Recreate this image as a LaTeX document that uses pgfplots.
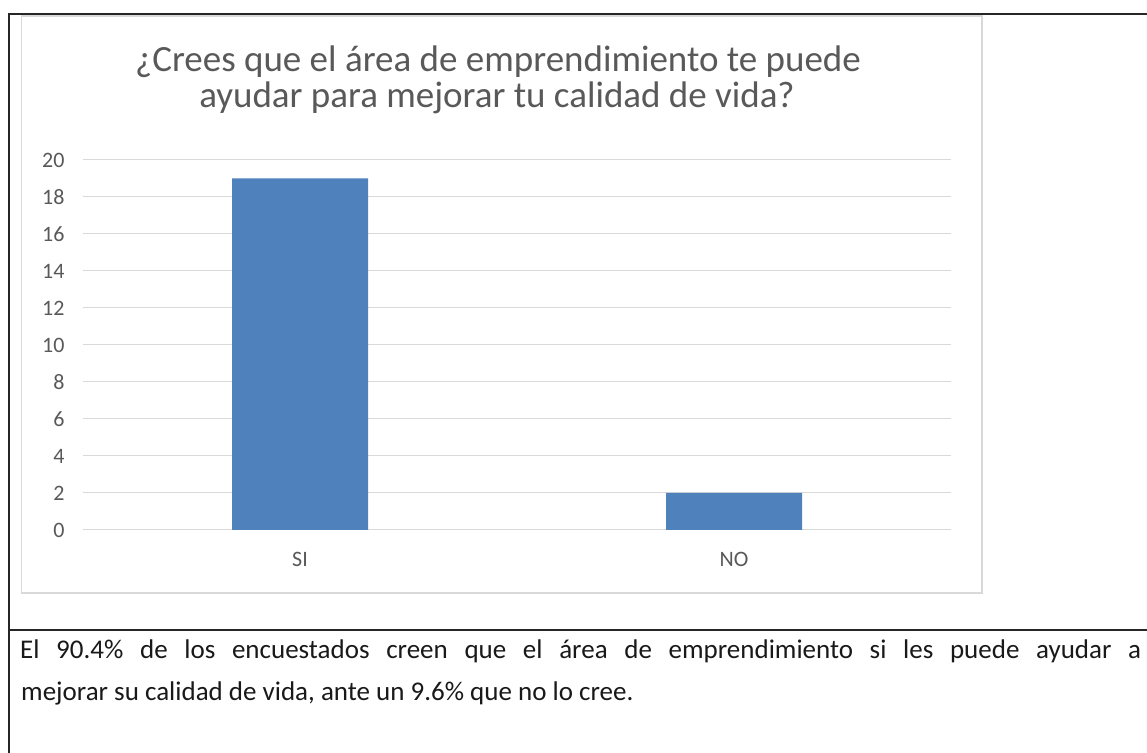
\documentclass[border=0pt]{standalone}
\usepackage{pgfplots}
\pgfplotsset{compat=1.18}
\usepackage{fontspec}
\setmainfont{Carlito}
\definecolor{barblue}{HTML}{4F81BD}
\definecolor{gridgray}{HTML}{D9D9D9}
\definecolor{textgray}{HTML}{595959}
\definecolor{framedark}{HTML}{262626}
\begin{document}
\begin{tikzpicture}[x=1pt,y=1pt]
\useasboundingbox (0,0) rectangle (1147,752);
\fill[white] (0,0) rectangle (1147,752);
\begin{scope}
\clip (0,0) rectangle (1147,752);
% chart area box
\draw[gridgray, line width=1.5pt] (21.5,159) rectangle (982,736);
% document table frame
\draw[framedark, line width=2pt] (9,-5) -- (9,738) -- (1160,738);
\draw[framedark, line width=2pt] (9,122) -- (1160,122);
% title
\node[anchor=base, text=textgray, font=\fontsize{37}{40}\selectfont, inner sep=0pt] at (498,680) {¿Crees que el área de emprendimiento te puede};
\node[anchor=base, text=textgray, font=\fontsize{37}{40}\selectfont, inner sep=0pt] at (497,644) {ayudar para mejorar tu calidad de vida?};
% bottom text
\node[anchor=base west, inner sep=0pt, text=black!90, font=\fontsize{27}{32}\selectfont] at (20,94) {\makebox[1121pt][s]{El 90.4\% de los encuestados creen que el área de emprendimiento si les puede ayudar a}};
\node[anchor=base west, inner sep=0pt, text=black!90, font=\fontsize{27}{32}\selectfont] at (21,52) {mejorar su calidad de vida, ante un 9.6\% que no lo cree.};
\end{scope}
\begin{axis}[
  at={(83pt,222pt)}, anchor=south west,
  scale only axis, width=868pt, height=370pt,
  xmin=-0.5, xmax=1.5, ymin=0, ymax=20,
  ybar, bar width=136pt,
  axis line style={draw=none},
  tick style={draw=none},
  ymajorgrids, major grid style={gridgray, line width=1pt},
  ytick={0,2,...,20},
  xtick={0,1}, xticklabels={SI,NO},
  /pgf/number format/assume math mode=true,
  ticklabel style={font=\fontsize{22}{26}\selectfont, text=textgray},
  yticklabel style={anchor=east, xshift=-15pt},
  xticklabel style={anchor=north, yshift=-14pt},
]
\addplot[fill=barblue, draw=none] coordinates {(0,19) (1,2)};
\end{axis}
\end{tikzpicture}
\end{document}
